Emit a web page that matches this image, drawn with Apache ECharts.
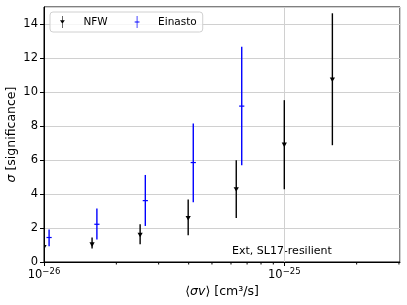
<!DOCTYPE html>
<html><head><meta charset="utf-8">
<script src="https://cdn.jsdelivr.net/npm/echarts@6/dist/echarts.min.js"></script>
<style>html,body{margin:0;padding:0;background:#fff}#c{width:407px;height:305px}#err{position:absolute;left:0;top:150px;font:10px sans-serif;color:red;width:400px}</style>
</head><body><div id="c"></div><div id="err"></div>
<script>
const nfwX = [1e-26, 1.585e-26, 2.512e-26, 3.981e-26, 6.31e-26, 1e-25, 1.585e-25];
const nfwY = [0.88, 1.04, 1.61, 2.59, 4.28, 6.91, 10.74];
const nfwLo = [0.6, 0.79, 1.04, 1.57, 2.59, 4.28, 6.87];
const nfwHi = [1.2, 1.44, 2.22, 3.67, 5.99, 9.52, 14.63];
const einX = [1.05e-26, 1.66e-26, 2.64e-26, 4.18e-26, 6.65e-26];
const einY = [1.44, 2.22, 3.61, 5.85, 9.17];
const einLo = [0.92, 1.32, 2.12, 3.52, 5.69];
const einHi = [1.91, 3.14, 5.12, 8.15, 12.66];
const minorTicks = [2e-26,3e-26,4e-26,5e-26,6e-26,7e-26,8e-26,9e-26,2e-25,3e-25];
const xMin = 1e-26, xMax = 3.03e-25;
const UNIT = 1e-26; // axis runs in units of 1e-26 cm^3/s (avoids float issues)
const font = 'DejaVu Sans';

function mk(xs, ys, lo, hi){ return xs.map((x,i)=>[x/UNIT, ys[i], lo[i], hi[i]]); }

function renderFactory(color, kind){
  return function(params, api){
    const x = api.value(0), y = api.value(1), l = api.value(2), h = api.value(3);
    const p = api.coord([x, y]), pl = api.coord([x, l]), ph = api.coord([x, h]);
    const children = [{
      type:'line', shape:{x1:p[0], y1:pl[1], x2:p[0], y2:ph[1]},
      style:{stroke:color, lineWidth:1.4}
    }];
    if (kind === 'tri') {
      children.push({type:'polygon', shape:{points:[[p[0]-2.6,p[1]-2],[p[0]+2.6,p[1]-2],[p[0],p[1]+2.6]]}, style:{fill:color}});
    } else {
      children.push({type:'line', shape:{x1:p[0]-2.6,y1:p[1],x2:p[0]+2.6,y2:p[1]}, style:{stroke:color, lineWidth:1.2}});
    }
    return {type:'group', children};
  };
}
function renderMinor(params, api){
  const p = api.coord([api.value(0), 0]);
  return {type:'line', shape:{x1:p[0], y1:p[1], x2:p[0], y2:p[1]+2.5}, style:{stroke:'#000', lineWidth:1}};
}

try {
const chart = echarts.init(document.getElementById('c'), null, {renderer:'canvas'});
const xLabelFmt = v => { const e = Math.round(Math.log10(v*UNIT)); return '{b|10}{s|\u2212' + Math.abs(e) + '}'; };
chart.setOption({
  animation:false,
  textStyle:{fontFamily:font},
  grid:{left:44, right:7, top:7, bottom:43, containLabel:false, outerBoundsMode:'none',
        show:true, borderColor:'#000', borderWidth:1, backgroundColor:'transparent'},
  legend:{
    left:50, top:12, orient:'horizontal',
    padding:[4,6,4,10], itemGap:27, itemWidth:6, itemHeight:12,
    borderColor:'#d0d0d0', borderWidth:1, borderRadius:3, backgroundColor:'rgba(255,255,255,0.8)',
    formatter: n => '{g|}' + n,
    textStyle:{fontFamily:font, fontSize:10.5, color:'#000', rich:{g:{width:13}}},
    data:[
      {name:'NFW', icon:'path://M4.5,0 H5.5 V7 H9 L5,13 L1,7 H4.5 Z M4.5,12 H5.5 V20 H4.5 Z'},
      {name:'Einasto', icon:'path://M4.4,0 H5.6 V9.3 H9 V10.7 H5.6 V20 H4.4 V10.7 H1 V9.3 H4.4 Z'}
    ]
  },
  xAxis:{
    type:'log', logBase:10, min:xMin/UNIT, max:xMax/UNIT,
    name:'\u27e8{i|\u03c3v}\u27e9 [cm\u00b3/s]', nameLocation:'middle', nameGap:23, nameMoveOverlap:false,
    nameTextStyle:{fontFamily:font, fontSize:12.5, color:'#000', rich:{i:{fontStyle:'italic', fontFamily:font, fontSize:12.5}}},
    axisLine:{show:true, lineStyle:{color:'#000', width:1}},
    axisTick:{show:true, inside:false, length:4, lineStyle:{color:'#000'}},
    axisLabel:{formatter:xLabelFmt, margin:5, color:'#000', showMaxLabel:false,
      rich:{b:{fontFamily:font, fontSize:11.5, color:'#000'}, s:{fontFamily:font, fontSize:8.5, color:'#000', padding:[0,0,7,0]}}},
    splitLine:{show:true, lineStyle:{color:'#d0d0d0', width:1}}
  },
  yAxis:{
    type:'value', min:0, max:15, interval:2,
    name:'{i|\u03c3} [significance]', nameLocation:'middle', nameGap:26, nameRotate:90, nameMoveOverlap:false,
    nameTextStyle:{fontFamily:font, fontSize:12.5, color:'#000', rich:{i:{fontStyle:'italic', fontFamily:font, fontSize:12.5}}},
    axisLine:{show:true, lineStyle:{color:'#000', width:1}},
    axisTick:{show:true, inside:false, length:4, lineStyle:{color:'#000'}},
    axisLabel:{fontFamily:font, fontSize:11.5, color:'#000', margin:6, showMaxLabel:false},
    splitLine:{show:true, lineStyle:{color:'#d0d0d0', width:1}}
  },
  graphic:[{type:'text', left:232, top:246, style:{text:'Ext, SL17-resilient', fontFamily:font, fontSize:11, fill:'#000'}}],
  series:[
    {name:'NFW', type:'custom', clip:true, itemStyle:{color:'#000'}, encode:{x:0,y:1},
     renderItem:renderFactory('#000','tri'), data:mk(nfwX,nfwY,nfwLo,nfwHi), z:5},
    {name:'Einasto', type:'custom', clip:true, itemStyle:{color:'#0000ff'}, encode:{x:0,y:1},
     renderItem:renderFactory('#0000ff','plus'), data:mk(einX,einY,einLo,einHi), z:5},
    {name:'minor', type:'custom', clip:false, silent:true, encode:{x:0,y:1},
     renderItem:renderMinor, data:minorTicks.map(v=>[v/UNIT,0]), z:6}
  ]
});
} catch(e) { document.getElementById('err').textContent = e.stack || String(e); }
</script></body></html>
